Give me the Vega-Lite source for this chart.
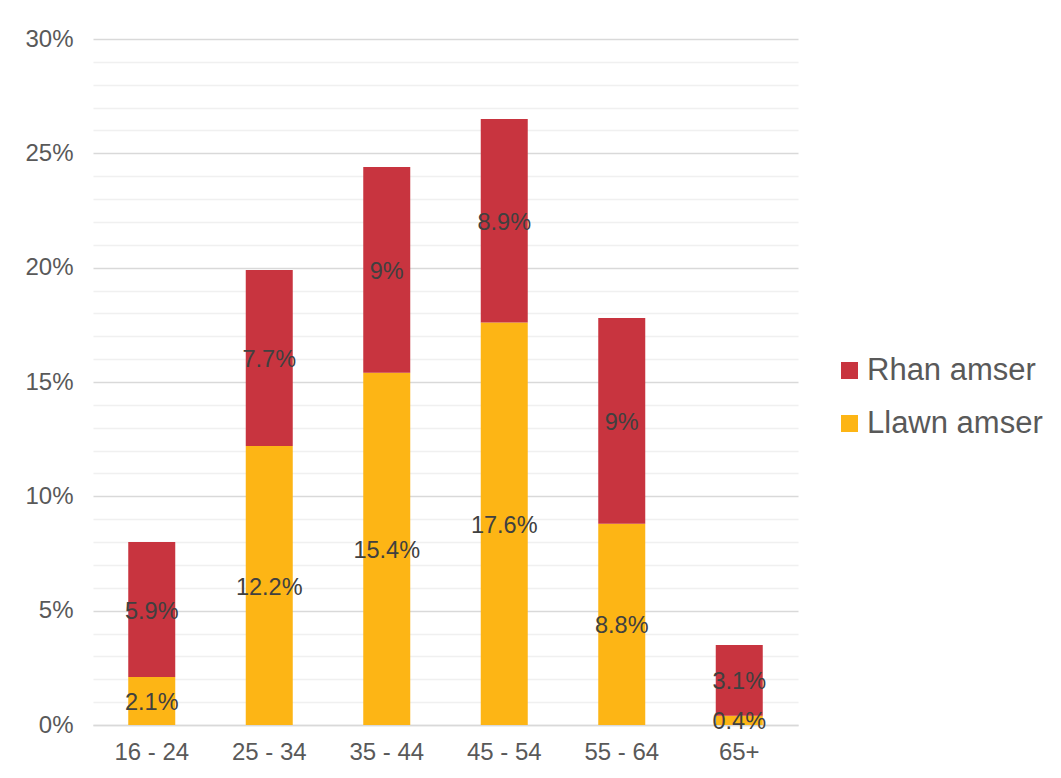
{
  "$schema": "https://vega.github.io/schema/vega-lite/v6.json",
  "width": 705,
  "height": 686,
  "autosize": {"type": "none"},
  "padding": {"left": 93, "top": 39, "right": 263, "bottom": 53},
  "background": "white",
  "config": {
    "view": {"stroke": null},
    "font": "Liberation Sans",
    "axis": {"labelFont": "Liberation Sans", "labelColor": "#595959"}
  },
  "data": {
    "values": [
      {"age": "16 - 24", "type": "Llawn amser", "value": 0.021},
      {"age": "16 - 24", "type": "Rhan amser", "value": 0.059},
      {"age": "25 - 34", "type": "Llawn amser", "value": 0.122},
      {"age": "25 - 34", "type": "Rhan amser", "value": 0.077},
      {"age": "35 - 44", "type": "Llawn amser", "value": 0.154},
      {"age": "35 - 44", "type": "Rhan amser", "value": 0.09},
      {"age": "45 - 54", "type": "Llawn amser", "value": 0.176},
      {"age": "45 - 54", "type": "Rhan amser", "value": 0.089},
      {"age": "55 - 64", "type": "Llawn amser", "value": 0.088},
      {"age": "55 - 64", "type": "Rhan amser", "value": 0.09},
      {"age": "65+", "type": "Llawn amser", "value": 0.004},
      {"age": "65+", "type": "Rhan amser", "value": 0.031}
    ]
  },
  "transform": [
    {"stack": "value", "groupby": ["age"], "sort": [{"field": "type", "order": "ascending"}], "as": ["v0", "v1"]},
    {"calculate": "(datum.v0 + datum.v1) / 2", "as": "vmid"}
  ],
  "encoding": {
    "x": {
      "field": "age",
      "type": "nominal",
      "title": null,
      "scale": {"paddingInner": 0.6, "paddingOuter": 0.3},
      "axis": {
        "labelAngle": 0,
        "labelFontSize": 24,
        "labelPadding": 15,
        "ticks": false,
        "domainColor": "#d9d9d9",
        "domainWidth": 1.5
      }
    }
  },
  "layer": [
    {
      "mark": {"type": "bar"},
      "encoding": {
        "y": {
          "field": "v0",
          "type": "quantitative",
          "title": null,
          "scale": {"domain": [0, 0.3]},
          "axis": {
            "values": [0, 0.01, 0.02, 0.03, 0.04, 0.05, 0.06, 0.07, 0.08, 0.09, 0.1, 0.11, 0.12, 0.13, 0.14, 0.15, 0.16, 0.17, 0.18, 0.19, 0.2, 0.21, 0.22, 0.23, 0.24, 0.25, 0.26, 0.27, 0.28, 0.29, 0.3],
            "labelExpr": "round(datum.value*100) % 5 === 0 ? format(datum.value, '.0%') : ''",
            "labelOverlap": false,
            "labelFontSize": 24,
            "labelPadding": 20,
            "ticks": false,
            "domain": false,
            "gridColor": {"condition": {"test": "round(datum.value*100) % 5 === 0", "value": "#d9d9d9"}, "value": "#f0f0f0"},
            "gridWidth": 1.5
          }
        },
        "y2": {"field": "v1"},
        "color": {
          "field": "type",
          "type": "nominal",
          "scale": {"domain": ["Rhan amser", "Llawn amser"], "range": ["#C8343F", "#FDB515"]},
          "legend": {
            "title": null,
            "orient": "none",
            "legendX": 741,
            "legendY": 316,
            "symbolType": "square",
            "symbolSize": 289,
            "symbolStrokeWidth": 0,
            "labelFontSize": 31,
            "labelLimit": 400,
            "labelColor": "#595959",
            "labelOffset": 2,
            "rowPadding": 21,
            "padding": 0
          }
        }
      }
    },
    {
      "mark": {"type": "text", "fontSize": 23.5, "color": "#404040", "baseline": "middle", "dy": 2},
      "encoding": {
        "y": {
          "field": "vmid",
          "type": "quantitative",
          "axis": {
            "values": [0, 0.01, 0.02, 0.03, 0.04, 0.05, 0.06, 0.07, 0.08, 0.09, 0.1, 0.11, 0.12, 0.13, 0.14, 0.15, 0.16, 0.17, 0.18, 0.19, 0.2, 0.21, 0.22, 0.23, 0.24, 0.25, 0.26, 0.27, 0.28, 0.29, 0.3],
            "labelExpr": "round(datum.value*100) % 5 === 0 ? format(datum.value, '.0%') : ''",
            "labelOverlap": false,
            "labelFontSize": 24,
            "labelPadding": 20,
            "ticks": false,
            "domain": false,
            "gridColor": {"condition": {"test": "round(datum.value*100) % 5 === 0", "value": "#d9d9d9"}, "value": "#f0f0f0"},
            "gridWidth": 1.5
          }
        },
        "text": {"field": "value", "type": "quantitative", "format": ".1~%"}
      }
    }
  ]
}
